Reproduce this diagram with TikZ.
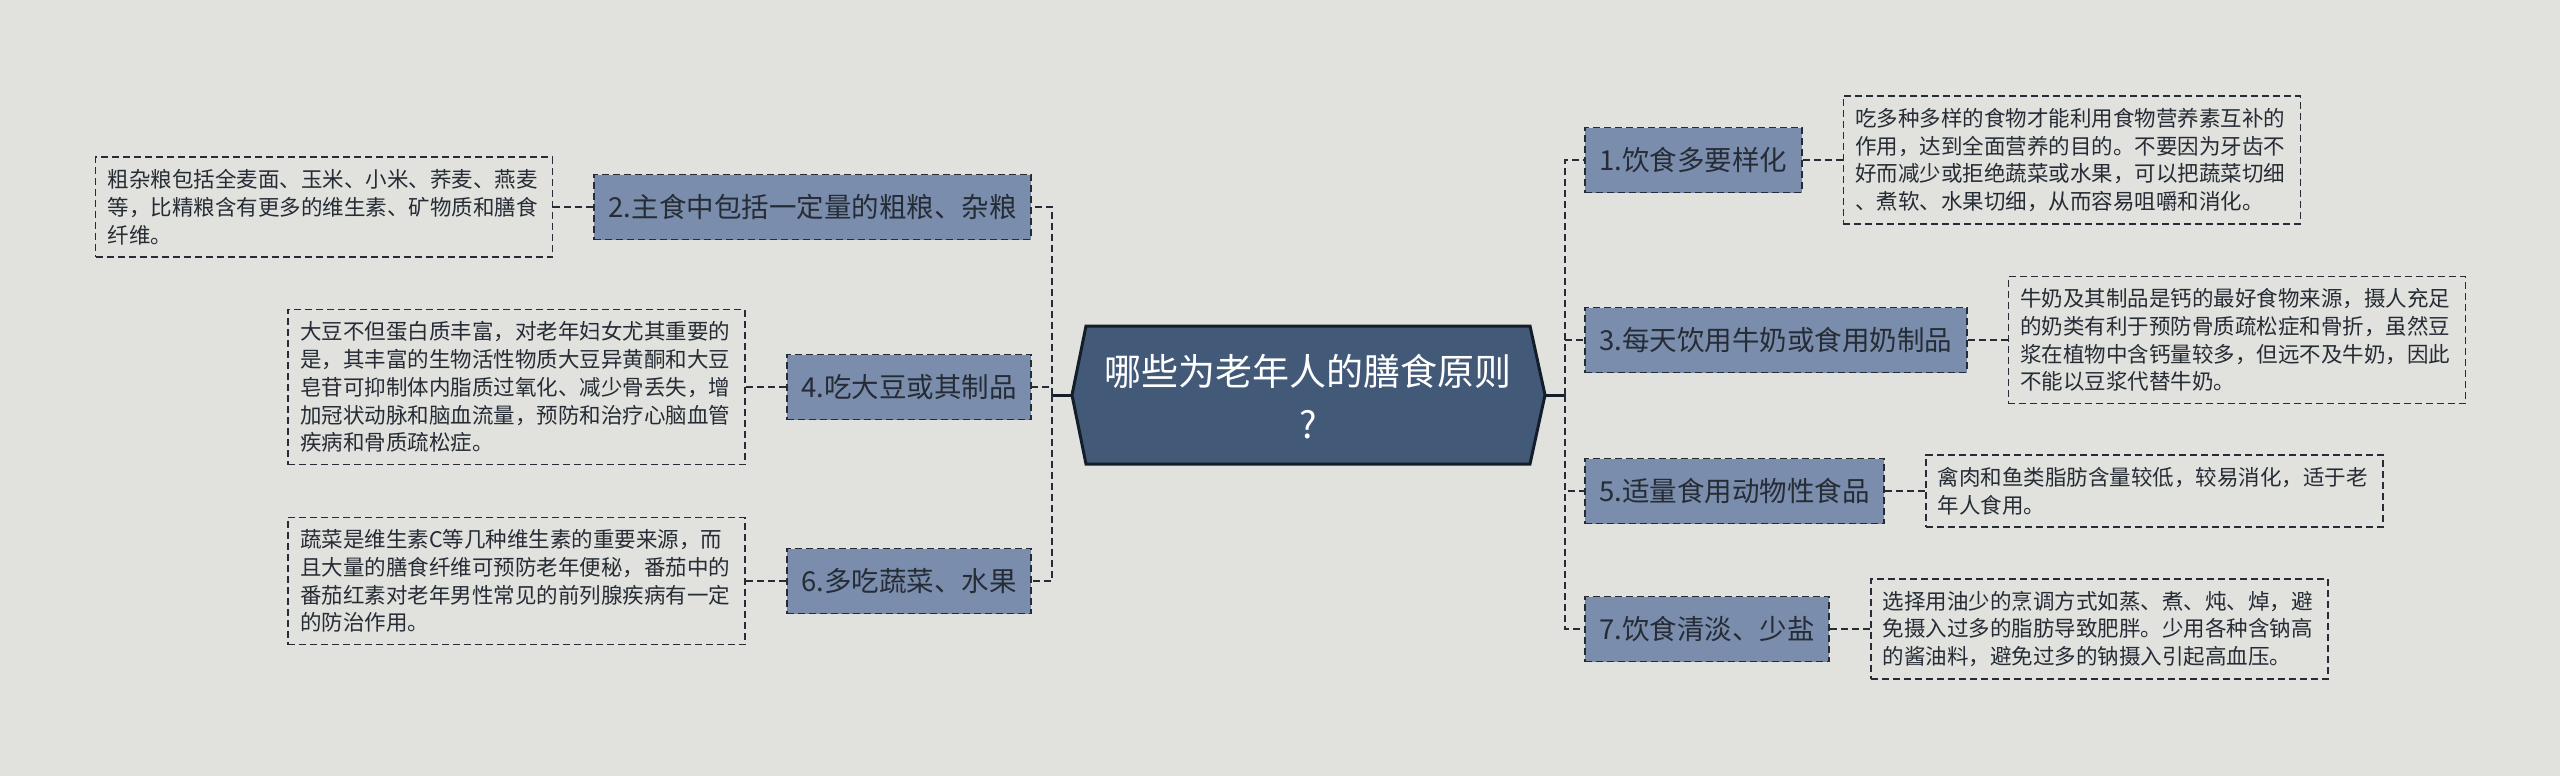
\documentclass[tikz,border=0pt]{standalone}
\usepackage{fontspec}
\setmainfont{Noto Sans CJK SC}
\usetikzlibrary{positioning}
\definecolor{bgpaper}{RGB}{225,226,221}
\definecolor{rootfill}{RGB}{66,89,120}
\definecolor{rootline}{RGB}{20,30,42}
\definecolor{branchfill}{RGB}{122,141,172}
\definecolor{inkdark}{RGB}{38,44,54}

\begin{document}
\begin{tikzpicture}[x=1pt, y=-1pt,
  branch/.style={draw=inkdark, fill=branchfill, dash pattern=on 7pt off 4pt, line width=1.8pt, text=inkdark, font=\fontsize{27.5}{32}\selectfont, inner xsep=14.5pt, minimum height=65pt},
  note/.style={draw=inkdark, dash pattern=on 7pt off 4pt, line width=1.5pt, text=inkdark, font=\fontsize{21.5}{27.8}\selectfont, text width=433pt, align=left, inner xsep=12pt, inner ysep=12pt},
  twig/.style={draw=inkdark, dash pattern=on 7pt off 4pt, line width=2.5pt},
  trunk/.style={draw=rootline, line width=3pt}
]
  \fill[bgpaper] (0,0) rectangle (2560,776);

  % centre
  \coordinate (rootL) at (1072,395);
  \coordinate (rootR) at (1545,395);
  \draw[trunk, fill=rootfill] (rootL) -- (1086,326) -- (1530,326) -- (rootR) -- (1530,464) -- (1086,464) -- cycle;
  \node[text=white, font=\fontsize{37}{53}\selectfont, align=center] (root) at (1308,397) {哪些为老年人的膳食原则\\?};

  % left side
  \node[branch, anchor=east] (b2) at (1032,207) {2.主食中包括一定量的粗粮、杂粮};
  \node[branch, anchor=east] (b4) at (1032,387) {4.吃大豆或其制品};
  \node[branch, anchor=east] (b6) at (1032,581) {6.多吃蔬菜、水果};

  \node[note, left=40pt of b2] (n2) {
    粗杂粮包括全麦面、玉米、小米、荞麦、燕麦\\
    等，比精粮含有更多的维生素、矿物质和膳食\\
    纤维。};
  \node[note, left=40pt of b4] (n4) {
    大豆不但蛋白质丰富，对老年妇女尤其重要的\\
    是，其丰富的生物活性物质大豆异黄酮和大豆\\
    皂苷可抑制体内脂质过氧化、减少骨丢失，增\\
    加冠状动脉和脑血流量，预防和治疗心脑血管\\
    疾病和骨质疏松症。};
  \node[note, left=40pt of b6] (n6) {
    蔬菜是维生素C等几种维生素的重要来源，而\\
    且大量的膳食纤维可预防老年便秘，番茄中的\\
    番茄红素对老年男性常见的前列腺疾病有一定\\
    的防治作用。};

  % right side
  \node[branch, anchor=west] (b1) at (1584,160) {1.饮食多要样化};
  \node[branch, anchor=west] (b3) at (1584,340) {3.每天饮用牛奶或食用奶制品};
  \node[branch, anchor=west] (b5) at (1584,491) {5.适量食用动物性食品};
  \node[branch, anchor=west] (b7) at (1584,629) {7.饮食清淡、少盐};

  \node[note, right=40pt of b1] (n1) {
    吃多种多样的食物才能利用食物营养素互补的\\
    作用，达到全面营养的目的。不要因为牙齿不\\
    好而减少或拒绝蔬菜或水果，可以把蔬菜切细\\
    、煮软、水果切细，从而容易咀嚼和消化。};
  \node[note, right=40pt of b3] (n3) {
    牛奶及其制品是钙的最好食物来源，摄人充足\\
    的奶类有利于预防骨质疏松症和骨折，虽然豆\\
    浆在植物中含钙量较多，但远不及牛奶，因此\\
    不能以豆浆代替牛奶。};
  \node[note, right=40pt of b5] (n5) {
    禽肉和鱼类脂肪含量较低，较易消化，适于老\\
    年人食用。};
  \node[note, right=40pt of b7] (n7) {
    选择用油少的烹调方式如蒸、煮、炖、焯，避\\
    免摄入过多的脂肪导致肥胖。少用各种含钠高\\
    的酱油料，避免过多的钠摄入引起高血压。};

  % connectors
  \coordinate (jl) at (1052,395);
  \coordinate (jr) at (1565,395);
  \draw[trunk] (rootL) -- (jl);
  \draw[trunk] (rootR) -- (jr);
  \foreach \b in {b2,b4,b6} \draw[twig] (jl) |- (\b.east);
  \foreach \b in {b1,b3,b5,b7} \draw[twig] (jr) |- (\b.west);
  \foreach \b/\n in {b2/n2,b4/n4,b6/n6} \draw[twig] (\b.west) -- (\n.east);
  \foreach \b/\n in {b1/n1,b3/n3,b5/n5,b7/n7} \draw[twig] (\b.east) -- (\n.west);
\end{tikzpicture}
\end{document}
